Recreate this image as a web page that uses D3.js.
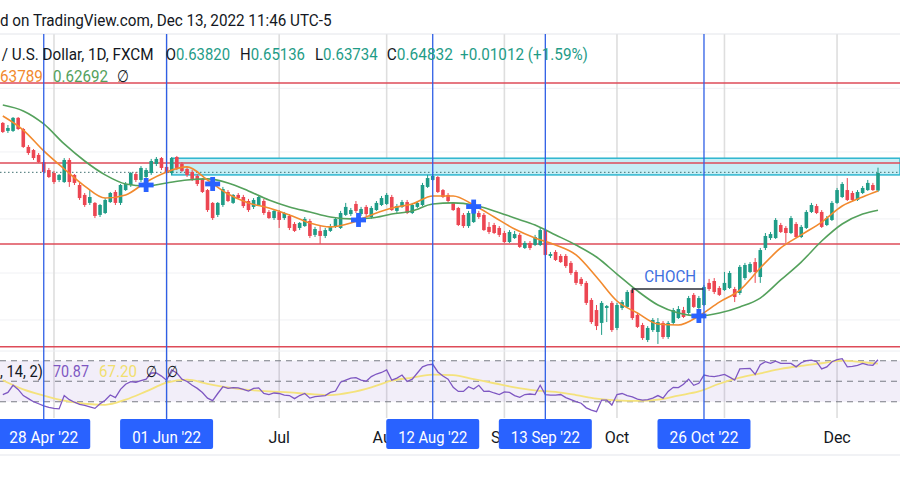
<!DOCTYPE html>
<html><head><meta charset="utf-8">
<script src="https://cdn.jsdelivr.net/npm/d3@7"></script>
<style>
html,body{margin:0;padding:0;background:#fff;}
svg{display:block;font-family:Roboto,"Noto Sans",sans-serif;}
</style></head>
<body><svg id="c" width="900" height="500"></svg>
<script>
// ---------- DATA (NZD/USD daily, 18 Apr 2022 .. 13 Dec 2022) ----------
const firstDay = "2022-04-18", lastDay = "2022-12-13";
const open = [0.6771,0.6725,0.6725,0.6800,0.6736,0.6633,0.6615,0.6587,0.6546,0.6500,
0.6483,0.6443,0.6431,0.6558,0.6472,0.6414,0.6357,0.6311,0.6311,0.6242,
0.6253,0.6316,0.6374,0.6311,0.6385,0.6414,0.6477,0.6443,0.6460,0.6483,
0.6535,0.6569,0.6518,0.6483,0.6575,0.6535,0.6506,0.6489,0.6466,0.6449,
0.6385,0.6311,0.6242,0.6299,0.6374,0.6311,0.6357,0.6345,0.6322,0.6288,
0.6299,0.6322,0.6259,0.6224,0.6259,0.6224,0.6236,0.6190,0.6167,0.6178,
0.6207,0.6127,0.6150,0.6121,0.6150,0.6173,0.6167,0.6242,0.6247,0.6305,
0.6247,0.6288,0.6230,0.6270,0.6299,0.6305,0.6345,0.6265,0.6288,0.6316,
0.6253,0.6288,0.6299,0.6403,0.6443,0.6460,0.6385,0.6357,0.6311,0.6282,
0.6242,0.6178,0.6201,0.6253,0.6242,0.6173,0.6184,0.6167,0.6138,0.6086,
0.6109,0.6127,0.6052,0.6081,0.6069,0.6069,0.6155,0.6006,0.6029,0.6006,
0.6006,0.5966,0.5914,0.5874,0.5851,0.5753,0.5695,0.5621,0.5707,0.5736,
0.5592,0.5707,0.5713,0.5810,0.5667,0.5609,0.5523,0.5580,0.5569,0.5621,
0.5540,0.5621,0.5649,0.5695,0.5678,0.5782,0.5707,0.5724,0.5851,0.5862,
0.5822,0.5810,0.5822,0.5816,0.5793,0.5879,0.5914,0.5971,0.5885,0.6052,
0.6109,0.6109,0.6184,0.6167,0.6138,0.6190,0.6115,0.6167,0.6259,0.6293,
0.6259,0.6184,0.6213,0.6311,0.6345,0.6385,0.6368,0.6328,0.6368,0.6385,
0.6414,0.63820];
const high = [0.6776,0.6759,0.6805,0.6805,0.6742,0.6644,0.6621,0.6598,0.6558,0.6512,
0.6495,0.6477,0.6569,0.6569,0.6477,0.6426,0.6368,0.6385,0.6316,0.6305,
0.6339,0.6374,0.6385,0.6420,0.6431,0.6489,0.6489,0.6523,0.6512,0.6564,
0.6575,0.6575,0.6529,0.6575,0.6581,0.6546,0.6518,0.6500,0.6477,0.6454,
0.6391,0.6316,0.6316,0.6403,0.6385,0.6362,0.6368,0.6357,0.6334,0.6339,
0.6357,0.6334,0.6270,0.6270,0.6270,0.6259,0.6247,0.6201,0.6201,0.6230,
0.6219,0.6173,0.6178,0.6167,0.6190,0.6230,0.6265,0.6311,0.6282,0.6322,
0.6288,0.6299,0.6293,0.6322,0.6351,0.6368,0.6357,0.6305,0.6328,0.6328,
0.6311,0.6322,0.6426,0.6472,0.6477,0.6466,0.6391,0.6368,0.6316,0.6288,
0.6253,0.6265,0.6265,0.6265,0.6253,0.6201,0.6196,0.6178,0.6150,0.6155,
0.6150,0.6138,0.6092,0.6092,0.6127,0.6167,0.6167,0.6029,0.6040,0.6017,
0.6017,0.5977,0.5925,0.5885,0.5862,0.5764,0.5724,0.5747,0.5724,0.5747,
0.5736,0.5753,0.5810,0.5816,0.5678,0.5621,0.5603,0.5649,0.5649,0.5632,
0.5632,0.5707,0.5718,0.5713,0.5776,0.5793,0.5776,0.5839,0.5874,0.5879,
0.5833,0.5914,0.5920,0.5828,0.5954,0.5966,0.5971,0.5994,0.6052,0.6138,
0.6144,0.6224,0.6196,0.6178,0.6236,0.6201,0.6184,0.6270,0.6311,0.6305,
0.6270,0.6236,0.6322,0.6397,0.6431,0.6454,0.6380,0.6385,0.6408,0.6443,
0.6426,0.65136];
const low = [0.6713,0.6713,0.6719,0.6730,0.6627,0.6587,0.6558,0.6541,0.6477,0.6454,
0.6420,0.6431,0.6426,0.6403,0.6414,0.6328,0.6288,0.6299,0.6224,0.6230,
0.6247,0.6311,0.6299,0.6299,0.6380,0.6403,0.6431,0.6431,0.6449,0.6472,
0.6523,0.6500,0.6472,0.6472,0.6500,0.6489,0.6460,0.6437,0.6408,0.6368,
0.6259,0.6213,0.6230,0.6288,0.6316,0.6305,0.6334,0.6282,0.6259,0.6276,
0.6293,0.6242,0.6219,0.6213,0.6167,0.6213,0.6155,0.6144,0.6155,0.6173,
0.6109,0.6115,0.6075,0.6109,0.6144,0.6167,0.6161,0.6236,0.6236,0.6253,
0.6236,0.6236,0.6219,0.6265,0.6293,0.6299,0.6265,0.6253,0.6282,0.6247,
0.6247,0.6282,0.6293,0.6397,0.6437,0.6368,0.6339,0.6311,0.6265,0.6178,
0.6167,0.6167,0.6196,0.6219,0.6150,0.6132,0.6132,0.6115,0.6081,0.6081,
0.6104,0.6052,0.6046,0.6040,0.6063,0.6063,0.6006,0.5994,0.5977,0.5966,
0.5937,0.5897,0.5839,0.5833,0.5724,0.5615,0.5580,0.5552,0.5626,0.5569,
0.5580,0.5695,0.5707,0.5638,0.5592,0.5523,0.5511,0.5569,0.5500,0.5529,
0.5529,0.5609,0.5644,0.5649,0.5667,0.5707,0.5649,0.5718,0.5805,0.5787,
0.5776,0.5805,0.5816,0.5741,0.5782,0.5868,0.5908,0.5851,0.5851,0.6040,
0.6098,0.6104,0.6138,0.6081,0.6132,0.6109,0.6109,0.6161,0.6253,0.6247,
0.6167,0.6178,0.6207,0.6305,0.6339,0.6322,0.6322,0.6322,0.6362,0.6380,
0.6380,0.63734];
const close = [0.6719,0.6742,0.6800,0.6736,0.6633,0.6598,0.6569,0.6546,0.6489,0.6460,
0.6431,0.6472,0.6558,0.6431,0.6426,0.6339,0.6299,0.6345,0.6236,0.6299,
0.6328,0.6368,0.6311,0.6414,0.6420,0.6483,0.6443,0.6512,0.6500,0.6552,
0.6564,0.6512,0.6483,0.6569,0.6512,0.6495,0.6472,0.6449,0.6420,0.6374,
0.6270,0.6224,0.6311,0.6391,0.6322,0.6357,0.6339,0.6293,0.6270,0.6328,
0.6345,0.6253,0.6224,0.6265,0.6213,0.6253,0.6167,0.6150,0.6196,0.6219,
0.6121,0.6161,0.6121,0.6155,0.6178,0.6219,0.6253,0.6288,0.6270,0.6265,
0.6276,0.6247,0.6282,0.6311,0.6339,0.6357,0.6270,0.6293,0.6316,0.6253,
0.6299,0.6311,0.6414,0.6454,0.6466,0.6374,0.6345,0.6322,0.6270,0.6184,
0.6178,0.6253,0.6253,0.6230,0.6155,0.6144,0.6138,0.6127,0.6086,0.6144,
0.6132,0.6058,0.6081,0.6052,0.6115,0.6155,0.6012,0.6017,0.5983,0.5971,
0.5948,0.5908,0.5851,0.5845,0.5736,0.5626,0.5603,0.5736,0.5718,0.5580,
0.5724,0.5741,0.5799,0.5649,0.5598,0.5534,0.5592,0.5638,0.5626,0.5540,
0.5621,0.5695,0.5701,0.5655,0.5764,0.5713,0.5764,0.5828,0.5816,0.5799,
0.5782,0.5851,0.5908,0.5770,0.5943,0.5954,0.5960,0.5914,0.6040,0.6121,
0.6132,0.6213,0.6144,0.6138,0.6224,0.6115,0.6173,0.6259,0.6299,0.6253,
0.6173,0.6224,0.6311,0.6385,0.6420,0.6328,0.6328,0.6374,0.6397,0.6426,
0.6385,0.64832];
// moving averages, read at every 4th bar
const maIndex = [0,4,8,12,16,20,24,28,32,36,40,44,48,52,56,60,64,68,72,76,80,84,88,92,96,100,104,108,112,116,120,124,128,132,136,140,144,148,152,156,160,164,168,171];
const emaFast = [0.6811,0.6730,0.6610,0.6506,0.6408,0.6339,0.6357,0.6431,0.6489,0.6518,0.6443,0.6362,0.6311,0.6282,0.6242,0.6196,0.6173,0.6196,0.6242,0.6282,0.6305,0.6351,0.6351,0.6299,0.6230,0.6161,0.6109,0.6069,0.6012,0.5885,0.5747,0.5678,0.5615,0.5609,0.5661,0.5741,0.5810,0.5937,0.6052,0.6127,0.6201,0.6293,0.6345,0.63789];
const emaSlow = [0.6874,0.6840,0.6765,0.6650,0.6552,0.6472,0.6420,0.6408,0.6426,0.6443,0.6449,0.6426,0.6380,0.6328,0.6288,0.6259,0.6230,0.6219,0.6224,0.6247,0.6265,0.6305,0.6311,0.6299,0.6265,0.6224,0.6184,0.6127,0.6069,0.6000,0.5902,0.5805,0.5724,0.5678,0.5661,0.5678,0.5713,0.5764,0.5868,0.5971,0.6092,0.6190,0.6247,0.62692];
// RSI per bar and its moving average (every 4th bar)
const rsi = [37,39,46,42,36,33,30,28,26,24.5,
23.5,23,36,32,29.5,27.5,26.5,25,23.5,28,
31.5,36.5,34,42,47,49.5,49,50.5,52,58,
58,55,51,61,58,52,49.7,46,43,39,
33.5,31,38,44.6,43,43.7,43.5,42,40.4,43,
43.5,38,37,38.5,38,36.5,36,33,36,38,
33.5,35,35.5,36,39,40.4,49,51,53,53.5,
51,50,54.5,57,58.5,61,51,53,56,49.7,
52,58,64,66,66.5,59,55,52,44,40,
40,44.6,42.4,46,40,40.4,38.5,37,39.5,39,
36,34.3,37,37.5,37,46,37,36.5,36.5,37,
34,32,30,28.5,24,21.7,20.3,31.6,31.6,26.7,
37,38,36,34.7,32.5,31.6,32,33.5,36,33.5,
40,44,43.7,47,52,46,48,56,55,54.5,
55.4,56.7,54,51,62,62.3,62.5,56.7,66,69,
67.4,69.5,67.4,67.4,67.4,64,68,70,70.6,69,
62,64,69,71,72,64,64.5,65.5,67.4,66,
65.5,70.87];
const rsiMa = [51,42,36,31,28,27,32,40,48.5,51.5,47.5,44,41.5,40,39,37.5,36.5,39,44,50.5,53.5,56.5,56,52,48,44,41,39.5,36.5,33,31.3,30.8,32,36,40,47.5,53.4,57.6,62,65,67.5,70,68.5,67.2];
const rsiLevels = [70, 50, 30];
// drawn objects
const redLevels = [0.7000, 0.6540, 0.6075, 0.5484];
const gridLevels = [0.6970, 0.6604, 0.6219, 0.5908, 0.5638];
const zoneTop = 0.6568, zoneBottom = 0.6472, zoneStartDate = "2022-06-02";
const priceLine = 0.6487;
const markerDates = ["2022-04-28","2022-06-01","2022-08-12","2022-09-13","2022-10-26"];
const crossIndex = [28, 41, 69.5, 92, 136];
const crossPrice = [0.6414, 0.6420, 0.6213, 0.6290, 0.5661];
const chochFrom = "2022-10-06", chochTo = "2022-10-26", chochLevel = 0.5816, chochLabel = "CHOCH";
const headerText = "d on TradingView.com, Dec 13, 2022 11:46 UTC-5";
const symbolText = "/ U.S. Dollar, 1D, FXCM";
const ohlcLabels = ["O","H","L","C"];
const ohlcValues = ["0.63820","0.65136","0.63734","0.64832"];
const changeText = "+0.01012 (+1.59%)";
const maLegend = ["63789","0.62692"];
const rsiLegend = [", 14, 2)", "70.87", "67.20"];

// ---------- CHART ----------
const svg = d3.select("#c");
const UP = "#1f9c87", DN = "#ec4652";
const parse = d3.timeParse("%Y-%m-%d");
const days = d3.timeDay.range(parse(firstDay), d3.timeDay.offset(parse(lastDay), 1))
  .filter(d => d.getDay() !== 0 && d.getDay() !== 6);
const N = days.length;
const idxOf = s => days.findIndex(d => +d === +parse(s));

const x = d3.scaleLinear().domain([0, N - 1]).range([2.8, 878]);
const y = d3.scaleLinear().domain([0.72823, 0.54653]).range([34, 350]);
const yr = d3.scaleLinear().domain([30, 70]).range([401.7, 360.7]);

const TOP = 34, PANE_BOTTOM = 418;

// horizontal grid
svg.append("g").selectAll("line").data(gridLevels).join("line")
  .attr("x1", 0).attr("x2", 900).attr("y1", d => y(d)).attr("y2", d => y(d))
  .attr("stroke", "#f0f1f4").attr("stroke-width", 1);

// month ticks
const monthIdx = [];
days.forEach((d, i) => { if (i > 0 && d.getMonth() !== days[i - 1].getMonth()) monthIdx.push(i); });
svg.append("g").selectAll("line").data(monthIdx).join("line")
  .attr("x1", i => x(i)).attr("x2", i => x(i)).attr("y1", TOP).attr("y2", PANE_BOTTOM)
  .attr("stroke", "#dedede").attr("stroke-width", 1.6);

// RSI band
svg.append("rect").attr("x", 0).attr("width", 900)
  .attr("y", yr(70)).attr("height", yr(30) - yr(70)).attr("fill", "rgba(126,87,194,0.10)");
svg.append("g").selectAll("line").data(rsiLevels).join("line")
  .attr("x1", 0).attr("x2", 900).attr("y1", d => yr(d)).attr("y2", d => yr(d))
  .attr("stroke", "#7a7c85").attr("stroke-width", 1.1).attr("stroke-dasharray", "6,5");

// separators
svg.append("line").attr("x1", 0).attr("x2", 900).attr("y1", TOP).attr("y2", TOP)
  .attr("stroke", "#e3e5ea").attr("stroke-width", 1);
svg.append("line").attr("x1", 0).attr("x2", 900).attr("y1", 351).attr("y2", 351)
  .attr("stroke", "#eceef2").attr("stroke-width", 1);
svg.append("line").attr("x1", 0).attr("x2", 900).attr("y1", 455).attr("y2", 455)
  .attr("stroke", "#eceef2").attr("stroke-width", 1.5);

// zone
const zx0 = x(idxOf(zoneStartDate));
svg.append("rect").attr("x", zx0).attr("width", 900 - zx0)
  .attr("y", y(zoneTop)).attr("height", y(zoneBottom) - y(zoneTop))
  .attr("fill", "#c6eef5").attr("stroke", "#2fb6cf").attr("stroke-width", 1.5);

// red levels
svg.append("g").selectAll("line").data(redLevels).join("line")
  .attr("x1", 0).attr("x2", 900).attr("y1", d => y(d)).attr("y2", d => y(d))
  .attr("stroke", "#de4b58").attr("stroke-width", 1.5);

// price line
svg.append("line").attr("x1", 0).attr("x2", 900).attr("y1", y(priceLine)).attr("y2", y(priceLine))
  .attr("stroke", "#3f6f70").attr("stroke-width", 1).attr("stroke-dasharray", "1.5,2.5");

// candles
const idx = d3.range(N);
const cg = svg.append("g");
cg.selectAll("line").data(idx).join("line")
  .attr("x1", i => x(i)).attr("x2", i => x(i))
  .attr("y1", i => y(high[i])).attr("y2", i => y(low[i]))
  .attr("stroke", i => close[i] >= open[i] ? UP : DN).attr("stroke-width", 1);
const bw = 3.6;
cg.selectAll("rect").data(idx).join("rect")
  .attr("x", i => x(i) - bw / 2).attr("width", bw)
  .attr("y", i => y(Math.max(open[i], close[i])))
  .attr("height", i => Math.max(1, Math.abs(y(open[i]) - y(close[i]))))
  .attr("fill", i => close[i] >= open[i] ? UP : DN);

// moving averages
const maLine = vals => d3.line().x((d, k) => x(maIndex[k])).y(d => y(d)).curve(d3.curveMonotoneX)(vals);
svg.append("path").attr("d", maLine(emaSlow)).attr("fill", "none").attr("stroke", "#54a15c").attr("stroke-width", 1.6);
svg.append("path").attr("d", maLine(emaFast)).attr("fill", "none").attr("stroke", "#f28a2e").attr("stroke-width", 1.6);

// RSI
svg.append("path").attr("d", d3.line().x((d, k) => x(maIndex[k])).y(d => yr(d)).curve(d3.curveMonotoneX)(rsiMa))
  .attr("fill", "none").attr("stroke", "#f4e27c").attr("stroke-width", 1.8);
svg.append("path").attr("d", d3.line().x((d, i) => x(i)).y(d => yr(d))(rsi))
  .attr("fill", "none").attr("stroke", "#7e57c2").attr("stroke-width", 1.3);

// CHOCH
const c0 = x(idxOf(chochFrom)), c1 = x(idxOf(chochTo));
svg.append("path").attr("d", `M${c0},${y(chochLevel) + 4}V${y(chochLevel)}H${c1}`)
  .attr("fill", "none").attr("stroke", "#2a2e39").attr("stroke-width", 1.4);

// crosses
const xg = svg.append("g").attr("fill", "#2962ff");
crossIndex.forEach((ci, k) => {
  const cx = x(ci), cy = y(crossPrice[k]);
  xg.append("rect").attr("x", cx - 7.5).attr("y", cy - 2.4).attr("width", 15).attr("height", 4.8);
  xg.append("rect").attr("x", cx - 2.4).attr("y", cy - 7).attr("width", 4.8).attr("height", 14);
});

// vertical marker lines
const mIdx = markerDates.map(idxOf);
svg.append("g").selectAll("line").data(mIdx).join("line")
  .attr("x1", i => x(i)).attr("x2", i => x(i)).attr("y1", TOP).attr("y2", 419)
  .attr("stroke", "#2f5fe6").attr("stroke-width", 1.3);

// text helper: horizontal squeeze by a transform so the text box keeps its measured width
function txt(parts, tx, ty, size, w, anchor) {
  const g = svg.append("g").attr("transform", `translate(${tx},${ty})`);
  const t = g.append("text").attr("x", 0).attr("y", 0).attr("font-size", size);
  if (anchor) t.attr("text-anchor", anchor);
  parts.forEach(p => t.append("tspan").attr("fill", p[1]).text(p[0]));
  if (w) {
    const nat = t.node().getComputedTextLength();
    if (nat > 0) t.attr("transform", `scale(${w / nat},1)`);
  }
  return g;
}
const DARK = "#131722", TEAL = "#1f9c87";
txt([[headerText, DARK]], 0, 26, 17, 332);
txt([[symbolText, DARK]], 1.7, 60, 17, 152);
const lx = [165.7, 240, 315, 386.7];
const vEnd = [230, 305, 377.7, 453];
ohlcLabels.forEach((l, k) => txt([[l, DARK], [ohlcValues[k], TEAL]], lx[k], 60, 17, vEnd[k] - lx[k]));
txt([[changeText, TEAL]], 460, 60, 17, 128);
txt([[maLegend[0], "#f28a2e"]], 0, 81.5, 17, 43);
txt([[maLegend[1], "#54a15c"]], 53, 81.5, 17, 55);
txt([["\u2205", DARK]], 117, 81.5, 17, 12);
txt([[rsiLegend[0], DARK]], 0, 377, 16, 43);
txt([[rsiLegend[1], "#7e57c2"]], 53, 377, 16, 36);
txt([[rsiLegend[2], "#f1df6e"]], 99, 377, 16, 38);
txt([["\u2205", DARK]], 146, 377, 16, 11);
txt([["\u2205", DARK]], 167, 377, 16, 11);
txt([[chochLabel, "#3d6fe0"]], (c0 + c1) / 2 + 2, y(chochLevel) - 7, 16, 52, "middle");

// time axis: month labels hidden under a marker box are not drawn; those at a box edge are clipped by it
const BOX_HALF = 46.5;
const boxX = mIdx.map(i => x(i));
const fmtM = d3.timeFormat("%b");
const defs = svg.append("defs");
monthIdx.forEach((i, k) => {
  const mx = x(i);
  const inside = boxX.find(bx => mx > bx - BOX_HALF + 3 && mx < bx + BOX_HALF);
  if (inside !== undefined && mx > inside - BOX_HALF + 8) return;
  const g = txt([[fmtM(days[i]), DARK]], mx, 443, 16, null, "middle");
  if (inside !== undefined) {
    const id = "clipm" + k;
    defs.append("clipPath").attr("id", id).append("rect")
      .attr("x", -60).attr("y", -30).attr("width", inside - BOX_HALF - mx + 60).attr("height", 60);
    g.attr("clip-path", `url(#${id})`);
  }
});
const fmtBox = d3.timeFormat("%d %b '%y");
mIdx.forEach(i => {
  const cx = x(i);
  svg.append("rect").attr("x", cx - BOX_HALF).attr("y", 419).attr("width", BOX_HALF * 2).attr("height", 30)
    .attr("rx", 2).attr("fill", "#2962ff");
  txt([[fmtBox(days[i]), "#ffffff"]], cx, 443, 16, 69, "middle");
});
</script>
</body></html>
